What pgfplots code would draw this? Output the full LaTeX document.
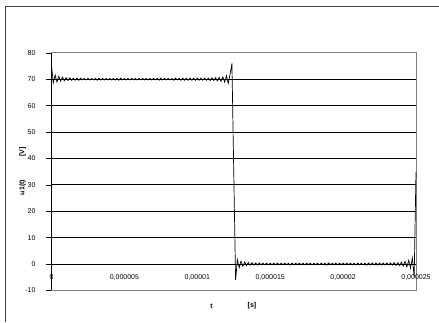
\documentclass[border=0pt]{standalone}
\usepackage{pgfplots}
\pgfplotsset{compat=1.18}
\usepackage{fontspec}
\setmainfont{Liberation Sans}
\begin{document}
\begin{tikzpicture}[x=1pt,y=1pt]
\useasboundingbox (0,0) rectangle (439,322);
\draw[line width=1.2pt, black!75] (5.5,0) -- (5.5,315.8) -- (439,315.8);
\begin{axis}[
  at={(51.5pt,31.6pt)}, anchor=south west,
  scale only axis, width=364.5pt, height=237.6pt,
  xmin=0, xmax=25, ymin=-10, ymax=80,
  xtick={0,5,10,15,20,25},
  xticklabels={{0},{0,000005},{0,00001},{0,000015},{0,00002},{0,000025}},
  ytick={-10,0,10,20,30,40,50,60,70,80},
  ymajorgrids, major grid style={black, line width=0.7pt},
  axis line style={black!50, line width=0.9pt},
  xtick style={draw=none},
  ytick style={black, line width=0.6pt},
  ytick pos=left, tick align=outside, major tick length=5pt,
  ticklabel style={font=\fontsize{7}{8}\selectfont},
  /pgf/number format/assume math mode=true,
  xticklabel style={yshift=24.4pt},
  yticklabel style={xshift=-7.5pt},
  clip=false,
]
\addplot[black, line width=0.7pt] coordinates {
(0,75) (0.125,68.6) (0.25,71.6) (0.375,68.9) (0.5,71.1) (0.625,69.2) (0.75,70.8) (0.875,69.4) (1,70.6) (1.125,69.5) (1.25,70.5) (1.375,69.6) (1.5,70.4)
(1.625,69.6) (1.75,70.4) (1.875,69.6) (2,70.4) (2.125,69.7) (2.25,70.3) (2.375,69.7) (2.5,70.3) (2.625,69.7) (2.75,70.3) (2.875,69.7) (3,70.3)
(3.125,69.6) (3.25,70.4) (3.375,69.7) (3.5,70.3) (3.625,69.7) (3.75,70.3) (3.875,69.7) (4,70.3) (4.125,69.7) (4.25,70.3) (4.375,69.7) (4.5,70.3)
(4.625,69.6) (4.75,70.4) (4.875,69.7) (5,70.3) (5.125,69.7) (5.25,70.3) (5.375,69.7) (5.5,70.3) (5.625,69.7) (5.75,70.3) (5.875,69.7) (6,70.3)
(6.125,69.7) (6.25,70.3) (6.375,69.7) (6.5,70.3) (6.625,69.7) (6.75,70.3) (6.875,69.7) (7,70.3) (7.125,69.7) (7.25,70.3) (7.375,69.6) (7.5,70.4)
(7.625,69.7) (7.75,70.3) (7.875,69.7) (8,70.3) (8.125,69.7) (8.25,70.3) (8.375,69.6) (8.5,70.4) (8.625,69.7) (8.75,70.3) (8.875,69.6) (9,70.4)
(9.125,69.6) (9.25,70.4) (9.375,69.6) (9.5,70.4) (9.625,69.6) (9.75,70.4) (9.875,69.6) (10,70.4) (10.125,69.6) (10.25,70.4) (10.375,69.6) (10.5,70.4)
(10.625,69.6) (10.75,70.4) (10.875,69.5) (11,70.5) (11.125,69.5) (11.25,70.6) (11.375,69.4) (11.5,70.7) (11.625,69.2) (11.75,70.9) (11.875,68.9)
(12,71.3) (12.125,68.4) (12.25,71.9) (12.375,76) (12.5,35) (12.625,-6)
(12.75,1.6) (12.875,-1.4) (13,1.1) (13.125,-0.9) (13.25,0.8) (13.375,-0.6) (13.5,0.6) (13.625,-0.5) (13.75,0.5) (13.875,-0.4) (14,0.4)
(14.125,-0.4) (14.25,0.4) (14.375,-0.3) (14.5,0.3) (14.625,-0.3) (14.75,0.3) (14.875,-0.3) (15,0.3) (15.125,-0.3) (15.25,0.3) (15.375,-0.3) (15.5,0.3)
(15.625,-0.3) (15.75,0.3) (15.875,-0.3) (16,0.3) (16.125,-0.3) (16.25,0.3) (16.375,-0.4) (16.5,0.4) (16.625,-0.3) (16.75,0.3) (16.875,-0.3) (17,0.3)
(17.125,-0.3) (17.25,0.3) (17.375,-0.3) (17.5,0.3) (17.625,-0.3) (17.75,0.3) (17.875,-0.3) (18,0.3) (18.125,-0.3) (18.25,0.3) (18.375,-0.3) (18.5,0.3)
(18.625,-0.3) (18.75,0.3) (18.875,-0.4) (19,0.4) (19.125,-0.3) (19.25,0.3) (19.375,-0.3) (19.5,0.3) (19.625,-0.3) (19.75,0.3) (19.875,-0.3) (20,0.3)
(20.125,-0.3) (20.25,0.3) (20.375,-0.3) (20.5,0.3) (20.625,-0.3) (20.75,0.3) (20.875,-0.3) (21,0.3) (21.125,-0.3) (21.25,0.3) (21.375,-0.3) (21.5,0.3)
(21.625,-0.4) (21.75,0.4) (21.875,-0.4) (22,0.4) (22.125,-0.4) (22.25,0.4) (22.375,-0.4) (22.5,0.4) (22.625,-0.4) (22.75,0.4) (22.875,-0.4) (23,0.4)
(23.125,-0.4) (23.25,0.4) (23.375,-0.4) (23.5,0.5) (23.625,-0.5) (23.75,0.5) (23.875,-0.6) (24,0.7) (24.125,-0.8) (24.25,1.0) (24.375,-1.1)
(24.5,1.4) (24.625,-1.6) (24.75,2.3) (24.875,-5) (25,35)
};
\draw[black, line width=0.9pt] (axis cs:0,-10) -- (axis cs:0,80);
\end{axis}
\node[rotate=90, font=\bfseries\fontsize{7}{8}\selectfont] at (22.5,170) {[V]};
\node[rotate=90, font=\bfseries\fontsize{7}{8}\selectfont] at (22.5,134.5) {u1(t)};
\node[font=\bfseries\fontsize{7}{8}\selectfont] at (211.5,16) {t};
\node[font=\bfseries\fontsize{7}{8}\selectfont] at (252,16) {[s]};
\end{tikzpicture}
\end{document}
